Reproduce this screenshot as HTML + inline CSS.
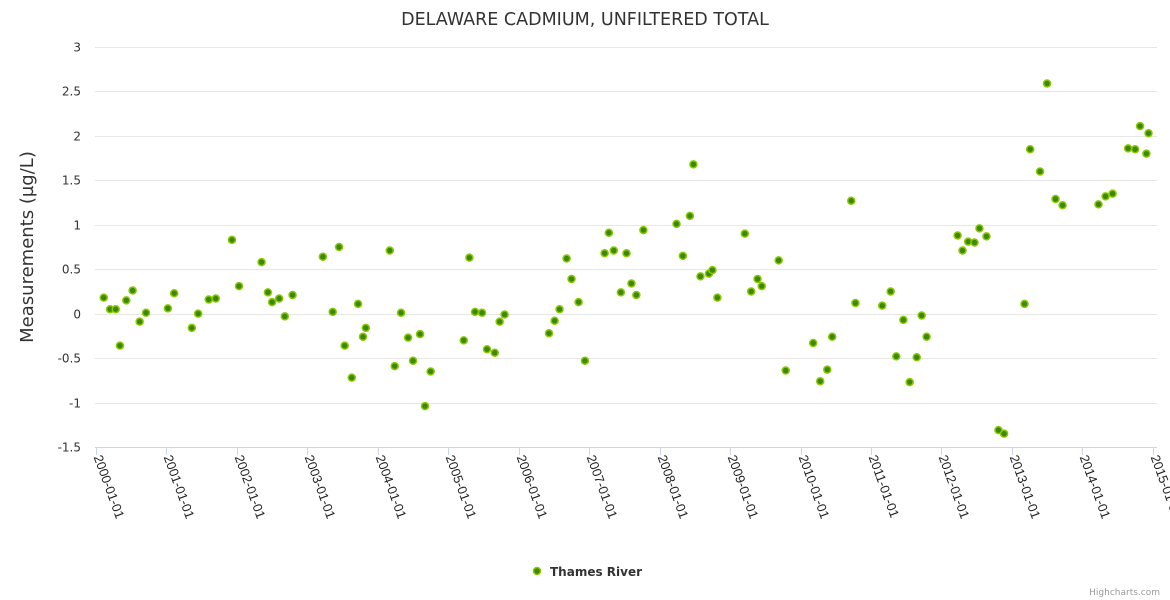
<!DOCTYPE html>
<html><head><meta charset="utf-8"><style>
html,body{margin:0;padding:0;background:#fff;}
svg{display:block;font-family:"DejaVu Sans","Liberation Sans",sans-serif;}
</style></head><body>
<svg id="chart" width="1170" height="600" xmlns="http://www.w3.org/2000/svg">
<text x="585" y="25" text-anchor="middle" font-size="17.5" fill="#333">DELAWARE CADMIUM, UNFILTERED TOTAL</text>
<text transform="translate(33,247) rotate(-90)" text-anchor="middle" font-size="18" fill="#333">Measurements (µg/L)</text>
<g id="grid"></g><g id="xaxis"></g><g id="pts"></g>
<g>
<circle cx="537" cy="571" r="3.5" fill="#3a8a00" stroke="#8cc800" stroke-width="1.5"/>
<text x="550" y="576" font-size="12" font-weight="bold" fill="#333">Thames River</text>
</g>
<text x="1160" y="595" text-anchor="end" font-size="9" fill="#999">Highcharts.com</text>
</svg>
<script>
const years=[0.11,0.20,0.28,0.34,0.43,0.52,0.62,0.71,1.02,1.11,1.36,1.45,1.60,1.70,1.93,2.03,2.35,2.44,2.50,2.60,2.68,2.79,3.22,3.36,3.45,3.53,3.63,3.72,3.79,3.83,4.17,4.24,4.33,4.43,4.50,4.60,4.67,4.75,5.22,5.30,5.38,5.48,5.55,5.66,5.73,5.80,6.43,6.51,6.58,6.68,6.75,6.85,6.94,7.22,7.28,7.35,7.45,7.53,7.60,7.67,7.77,8.24,8.33,8.43,8.48,8.58,8.70,8.75,8.82,9.21,9.30,9.39,9.45,9.69,9.79,10.18,10.28,10.38,10.45,10.72,10.78,11.16,11.28,11.36,11.46,11.55,11.65,11.72,11.79,12.23,12.30,12.38,12.47,12.54,12.64,12.81,12.89,13.18,13.26,13.40,13.50,13.62,13.72,14.23,14.33,14.43,14.65,14.75,14.82,14.91,14.94];
const values=[0.18,0.05,0.05,-0.36,0.15,0.26,-0.09,0.01,0.06,0.23,-0.16,0.00,0.16,0.17,0.83,0.31,0.58,0.24,0.13,0.17,-0.03,0.21,0.64,0.02,0.75,-0.36,-0.72,0.11,-0.26,-0.16,0.71,-0.59,0.01,-0.27,-0.53,-0.23,-1.04,-0.65,-0.30,0.63,0.02,0.01,-0.40,-0.44,-0.09,-0.01,-0.22,-0.08,0.05,0.62,0.39,0.13,-0.53,0.68,0.91,0.71,0.24,0.68,0.34,0.21,0.94,1.01,0.65,1.10,1.68,0.42,0.45,0.49,0.18,0.90,0.25,0.39,0.31,0.60,-0.64,-0.33,-0.76,-0.63,-0.26,1.27,0.12,0.09,0.25,-0.48,-0.07,-0.77,-0.49,-0.02,-0.26,0.88,0.71,0.81,0.80,0.96,0.87,-1.31,-1.35,0.11,1.85,1.60,2.59,1.29,1.22,1.23,1.32,1.35,1.86,1.85,2.11,1.80,2.03];
const yTicks=[3,2.5,2,1.5,1,0.5,0,-0.5,-1,-1.5];
const xTickLabels=["2000-01-01","2001-01-01","2002-01-01","2003-01-01","2004-01-01","2005-01-01","2006-01-01","2007-01-01","2008-01-01","2009-01-01","2010-01-01","2011-01-01","2012-01-01","2013-01-01","2014-01-01","2015-01-01"];
const NS="http://www.w3.org/2000/svg";
const L=95,R=1157,T=47,B=447;
const xs=t=>96+t*70.45;
const ys=v=>T+(3-v)/4.5*(B-T);
function mk(tag,attrs,parent){const e=document.createElementNS(NS,tag);for(const k in attrs)e.setAttribute(k,attrs[k]);parent.appendChild(e);return e;}
const grid=document.getElementById('grid');
yTicks.forEach(v=>{
  const y=Math.round(ys(v))+0.5;
  const l=mk('line',{x1:L,x2:R,y1:y,y2:y,stroke:v===-1.5?'#ccd6eb':'#e6e6e6','stroke-width':1},grid);
  
  
  const t=mk('text',{x:81,y:y+4,'text-anchor':'end','font-size':12,fill:'#333'},grid);
  t.textContent=String(v);
  
  
});
const xa=document.getElementById('xaxis');
xTickLabels.forEach((lab,i)=>{
  const x=Math.round(xs(i))+0.5;
  const tk=mk('line',{x1:x,x2:x,y1:B,y2:B+8,stroke:'#ccd6eb'},xa);
  
  
  const t=mk('text',{transform:`translate(${x-3},${B+10}) rotate(70)`,'font-size':13,'font-family':'"Liberation Sans",sans-serif',fill:'#222'},xa);
  t.textContent=lab;
  
  
});
const pts=document.getElementById('pts');
years.forEach((t,i)=>{
  const c=mk('circle',{cx:xs(t),cy:ys(values[i]),r:3.5,fill:'#3a8a00',stroke:'#8cc800','stroke-width':1.5},pts);
  
  
});
</script>
</body></html>
